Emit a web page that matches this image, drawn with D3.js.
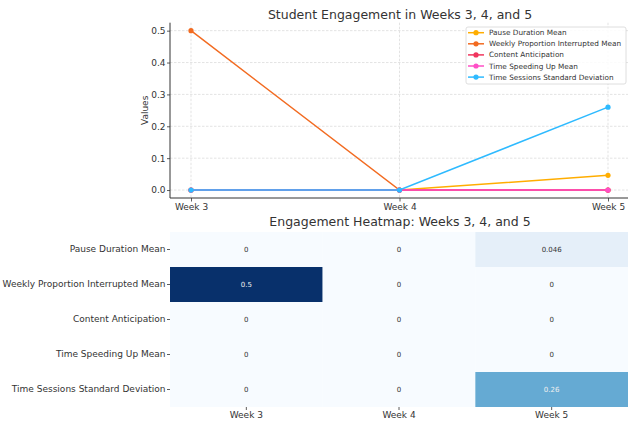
<!DOCTYPE html>
<html>
<head>
<meta charset="utf-8">
<script src="https://cdn.jsdelivr.net/npm/d3@7/dist/d3.min.js"></script>
<style>
  html, body { margin: 0; padding: 0; background: #fff; }
  svg { display: block; font-family: "DejaVu Sans", sans-serif; }
</style>
</head>
<body>
<svg id="chart" width="628" height="422"></svg>
<script>
// ── Data ────────────────────────────────────────────────────────────────────
const weeks = ['Week 3', 'Week 4', 'Week 5'];
const metrics = [
  'Pause Duration Mean',
  'Weekly Proportion Interrupted Mean',
  'Content Anticipation',
  'Time Speeding Up Mean',
  'Time Sessions Standard Deviation'
];
const pauseDuration = [0, 0, 0.046];
const weeklyInterrupted = [0.5, 0, 0];
const contentAnticipation = [0, 0, 0];
const timeSpeedingUp = [0, 0, 0];
const timeSessionsStd = [0, 0, 0.26];
const seriesValues = [pauseDuration, weeklyInterrupted, contentAnticipation, timeSpeedingUp, timeSessionsStd];
const seriesColors = ['#ffad00', '#f26b21', '#f0365e', '#ff4fc6', '#2ebaff'];
const yTicks = [0, 0.1, 0.2, 0.3, 0.4, 0.5];
const heatLabels = [['0', '0', '0.046'], ['0.5', '0', '0'], ['0', '0', '0'], ['0', '0', '0'], ['0', '0', '0.26']];

const svg = d3.select('#chart');
const ink = '#333';

// ── Line chart ──────────────────────────────────────────────────────────────
const L = { left: 170, right: 628, top: 22.7, bottom: 198 };
const x = d3.scalePoint().domain(weeks).range([191, 608]);
const y = d3.scaleLinear().domain([-0.025, 0.525]).range([L.bottom, L.top]);

const lineG = svg.append('g');

lineG.append('text')
  .attr('x', 400).attr('y', 19)
  .attr('text-anchor', 'middle')
  .attr('font-size', 12.5).attr('fill', ink)
  .text('Student Engagement in Weeks 3, 4, and 5');

// grid
lineG.append('g').selectAll('line').data(yTicks).join('line')
  .attr('x1', L.left).attr('x2', L.right)
  .attr('y1', d => y(d)).attr('y2', d => y(d))
  .attr('stroke', '#dcdcdc').attr('stroke-width', 0.8).attr('stroke-dasharray', '2.5,1.5');
lineG.append('g').selectAll('line').data(weeks).join('line')
  .attr('x1', d => x(d)).attr('x2', d => x(d))
  .attr('y1', L.top).attr('y2', L.bottom)
  .attr('stroke', '#dcdcdc').attr('stroke-width', 0.8).attr('stroke-dasharray', '2.5,1.5');

// axes
const yAxis = lineG.append('g').attr('transform', `translate(${L.left},0)`)
  .call(d3.axisLeft(y).tickValues(yTicks).tickFormat(d3.format('.1f')).tickSize(3).tickPadding(1.5));
const xAxis = lineG.append('g').attr('transform', `translate(0,${L.bottom})`)
  .call(d3.axisBottom(x).tickSize(3.5).tickPadding(2));
[yAxis, xAxis].forEach(a => {
  a.select('.domain').remove();
  a.selectAll('line').attr('stroke', ink).attr('stroke-width', 0.8);
  a.selectAll('text').attr('font-size', 9).attr('fill', ink).attr('font-family', '"DejaVu Sans", sans-serif');
});
lineG.append('line').attr('x1', L.left).attr('x2', L.left).attr('y1', L.top).attr('y2', L.bottom)
  .attr('stroke', ink).attr('stroke-width', 1);
lineG.append('line').attr('x1', L.left).attr('x2', L.right).attr('y1', L.bottom).attr('y2', L.bottom)
  .attr('stroke', ink).attr('stroke-width', 1);

lineG.append('text')
  .attr('transform', `translate(148,${(L.top + L.bottom) / 2}) rotate(-90)`)
  .attr('text-anchor', 'middle')
  .attr('font-size', 9).attr('fill', ink)
  .text('Values');

// series
const line = d3.line().x((d, i) => x(weeks[i])).y(d => y(d));
seriesValues.forEach((vals, s) => {
  const g = lineG.append('g');
  g.append('path').datum(vals)
    .attr('d', line).attr('fill', 'none')
    .attr('stroke', seriesColors[s]).attr('stroke-width', 1.5);
  g.selectAll('circle').data(vals).join('circle')
    .attr('cx', (d, i) => x(weeks[i])).attr('cy', d => y(d))
    .attr('r', 2.6).attr('fill', seriesColors[s]);
});

// legend
const lg = lineG.append('g').attr('transform', 'translate(466,27)');
lg.append('rect').attr('width', 160).attr('height', 57).attr('rx', 2)
  .attr('fill', 'rgba(255,255,255,0.85)').attr('stroke', '#d6d6d6').attr('stroke-width', 0.8);
metrics.forEach((m, i) => {
  const row = lg.append('g').attr('transform', `translate(0,${5.7 + i * 11.1})`);
  row.append('line').attr('x1', 2).attr('x2', 18).attr('stroke', seriesColors[i]).attr('stroke-width', 1.5);
  row.append('circle').attr('cx', 10).attr('r', 2.6).attr('fill', seriesColors[i]);
  row.append('text').attr('x', 23).attr('dy', '0.35em')
    .attr('font-size', 7.3).attr('fill', ink).text(m);
});

// ── Heatmap ─────────────────────────────────────────────────────────────────
const H = { left: 170, right: 628, top: 232, bottom: 407 };
const hx = d3.scaleBand().domain(weeks).range([H.left, H.right]);
const hy = d3.scaleBand().domain(metrics).range([H.top, H.bottom]);
const color = d3.scaleSequential(d3.interpolateBlues).domain([0, 0.5]);

const heatG = svg.append('g');
heatG.append('text')
  .attr('x', 400).attr('y', 225.5)
  .attr('text-anchor', 'middle')
  .attr('font-size', 12.5).attr('fill', ink)
  .text('Engagement Heatmap: Weeks 3, 4, and 5');

metrics.forEach((m, r) => {
  weeks.forEach((w, c) => {
    const v = seriesValues[r][c];
    heatG.append('rect')
      .attr('x', hx(w)).attr('y', hy(m))
      .attr('width', hx.bandwidth()).attr('height', hy.bandwidth())
      .attr('fill', color(v));
    heatG.append('text')
      .attr('x', hx(w) + hx.bandwidth() / 2).attr('y', hy(m) + hy.bandwidth() / 2)
      .attr('dy', '0.35em').attr('text-anchor', 'middle')
      .attr('font-size', 7).attr('fill', v > 0.2 ? '#f0f0f0' : '#333')
      .text(heatLabels[r][c]);
  });
});

const hyAxis = heatG.append('g').attr('transform', `translate(${H.left},0)`)
  .call(d3.axisLeft(hy).tickSize(3).tickPadding(1.5));
const hxAxis = heatG.append('g').attr('transform', `translate(0,${H.bottom})`)
  .call(d3.axisBottom(hx).tickSize(3).tickPadding(2));
[hyAxis, hxAxis].forEach(a => {
  a.select('.domain').remove();
  a.selectAll('line').attr('stroke', ink).attr('stroke-width', 0.8);
  a.selectAll('text').attr('font-size', 9).attr('fill', ink).attr('font-family', '"DejaVu Sans", sans-serif');
});
</script>
</body>
</html>
